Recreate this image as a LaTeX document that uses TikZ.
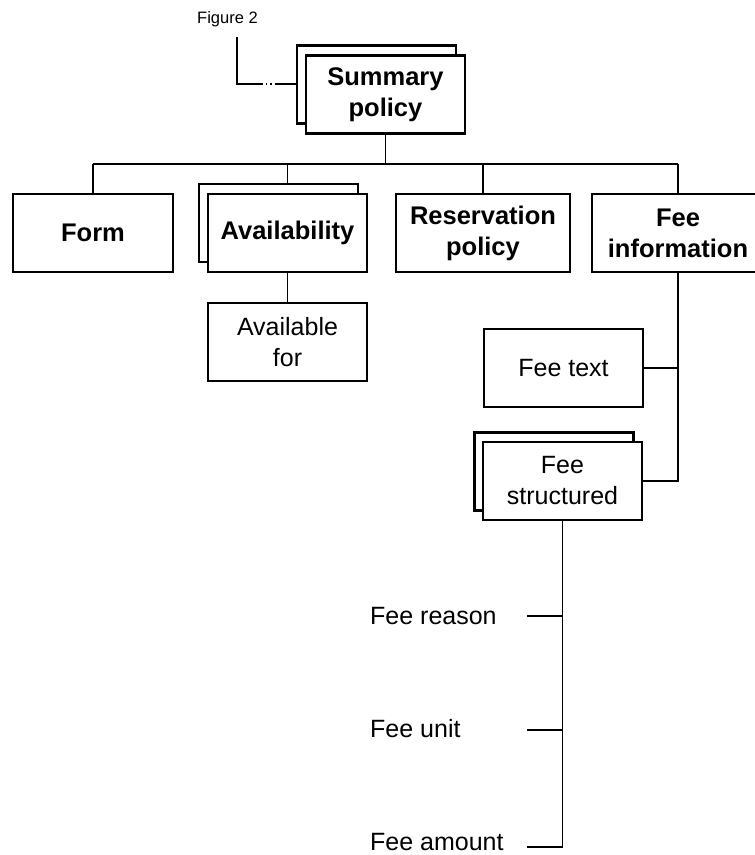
\documentclass[tikz,border=0pt]{standalone}
\usepackage{fontspec}
\setmainfont{Liberation Sans}
\begin{document}
\begin{tikzpicture}[x=1pt,y=-1pt,
  box/.style={draw=black, line width=2.2pt, fill=white, inner sep=0pt,
    minimum width=159pt, minimum height=78pt, align=center},
  boldbox/.style={box, font=\fontsize{25.5}{31}\selectfont\bfseries},
  plainbox/.style={box, font=\fontsize{25}{31}\selectfont},
  link/.style={draw=black, line width=1.1pt},
  leaf/.style={anchor=west, inner sep=0pt, font=\fontsize{25}{31}\selectfont}
]
\useasboundingbox (0,0) rectangle (755,855);

% top node with its stacked copy behind
\node[boldbox] (sumback) at (376.5,84.5) {};
\node[boldbox] (summary) at (385.5,94.5) {Summary\\policy};

% reference to another figure
\node[inner sep=0pt, font=\fontsize{16.5}{20}\selectfont] (fig) at (227.5,19) {Figure 2};
\coordinate (f0) at (237,37);
\coordinate (f1) at (237,84);
\coordinate (f2) at (261,84);
\coordinate (f3) at (275,84);
\draw[link] (f0) -- (f1) -- (f2);
\draw[link, dash pattern=on 1.5pt off 3pt] (f2) -- (f3);
\draw[link] (f3) -- (sumback.west |- f3);

% second level
\node[boldbox, minimum width=160pt] (form) at (93,233) {Form};
\node[boldbox] (availback) at (278.5,223) {};
\node[boldbox] (avail) at (287.5,233) {Availability};
\node[boldbox, minimum width=174pt] (resv) at (483,233) {Reservation\\policy};
\node[boldbox, minimum width=172pt] (feeinfo) at (678,233) {Fee\\information};

% bus joining the second level
\coordinate (busL) at (93,164);
\coordinate (busR) at (678,164);
\draw[link] (busL) -- (busR);
\draw[link] (summary.south) -- (summary.south |- busL);
\draw[link] (form.north) -- (form.north |- busL);
\draw[link] (avail.north |- availback.north) -- (avail.north |- busL);
\draw[link] (resv.north) -- (resv.north |- busL);
\draw[link] (feeinfo.north) -- (feeinfo.north |- busL);

% below Availability
\node[plainbox] (availfor) at (287.5,342) {Available\\for};
\draw[link] (avail.south) -- (availfor.north);

% below Fee information
\node[plainbox] (feetext) at (563.5,368) {Fee text};
\node[plainbox] (feestrback) at (554,471.5) {};
\node[plainbox] (feestr) at (562.5,481) {Fee\\structured};
\draw[link] (feeinfo.south) -- (feeinfo.south |- feestr.east) -- (feestr.east);
\draw[link] (feetext.east) -- (feetext.east -| feeinfo.south);

% leaves of Fee structured
\node[leaf] (reason) at (370,616) {Fee reason};
\node[leaf] (unit) at (370,729) {Fee unit};
\node[leaf] (amount) at (370,842) {Fee amount};
\coordinate (r1) at (527,616);
\coordinate (r2) at (527,730);
\coordinate (r3) at (527,847);
\draw[link] (feestr.south) -- (feestr.south |- r3) -- (r3);
\draw[link] (r1) -- (r1 -| feestr.south);
\draw[link] (r2) -- (r2 -| feestr.south);
\end{tikzpicture}
\end{document}
